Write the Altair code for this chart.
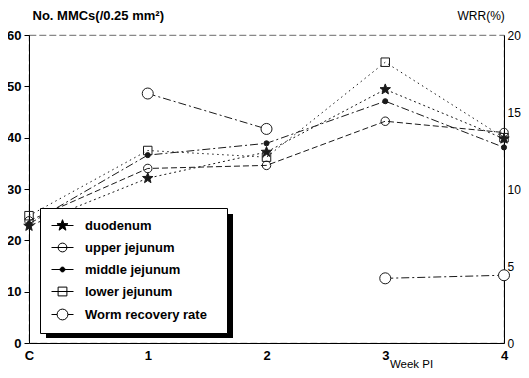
import math
import altair as alt
import pandas as pd

# ---------------- data ----------------
weeks = [0, 1, 2, 3, 4]
duodenum = [22.8, 32.1, 37.2, 49.4, 39.8]
upper_jejunum = [23.8, 34.0, 34.6, 43.2, 41.0]
middle_jejunum = [23.2, 36.6, 38.9, 47.1, 38.1]
lower_jejunum = [24.8, 37.5, 36.2, 54.7, 40.0]

wrr_weeks = [1, 2, 3, 4]
wrr_values = [16.2, 13.9, 4.2, 4.4]
wrr_segments = ["early", "early", "late", "late"]

series_names = ["duodenum", "upper jejunum", "middle jejunum",
                "lower jejunum", "Worm recovery rate"]
x_tick_labels = ["C", "1", "2", "3", "4"]
left_ticks = [0, 10, 20, 30, 40, 50, 60]
right_ticks = [0, 5, 10, 15, 20]

mmc_rows = []
for name, vals in zip(series_names[:4],
                      [duodenum, upper_jejunum, middle_jejunum, lower_jejunum]):
    for w, v in zip(weeks, vals):
        mmc_rows.append({"series": name, "week": w, "value": v})
mmc_df = pd.DataFrame(mmc_rows)
wrr_df = pd.DataFrame({"series": series_names[4], "week": wrr_weeks,
                       "value": wrr_values, "seg": wrr_segments})

# ---------------- marker paths (unit coords) ----------------
def star_path(r_out=1.0, r_in=0.42):
    pts = []
    for k in range(10):
        r = r_out if k % 2 == 0 else r_in
        a = math.radians(-90 + 36 * k)
        pts.append(f"{r * math.cos(a):.3f},{r * math.sin(a):.3f}")
    return "M" + "L".join(pts) + "Z"


def circle_path(r):
    return f"M{r},0A{r},{r},0,1,1,{-r},0A{r},{r},0,1,1,{r},0Z"


def square_path(h):
    return f"M{-h},{-h}H{h}V{h}H{-h}Z"


stub = "M-2.75,0H2.75"
legend_paths = [
    stub + star_path(1.45, 0.6),
    stub + circle_path(1.1),
    stub + circle_path(0.6),
    stub + square_path(1.1),
    "M-2.75,0H-1.35M1.35,0H2.75" + circle_path(1.35),
]
legend_fills = ["black", "transparent", "black", "transparent", "white"]
legend_strokes = ["black"] * 5

FONT = "Liberation Sans"
INK = "#1a1a1a"

x_enc = alt.X(
    "week:Q",
    scale=alt.Scale(domain=[0, 4], nice=False),
    axis=alt.Axis(
        values=weeks,
        labelExpr="[" + ",".join(f"'{t}'" for t in x_tick_labels) + "][datum.value]",
        labelFlush=False, tickSize=0, labelPadding=6,
        labelFontSize=13, labelFontWeight="bold",
        title="Week PI", titleFontSize=11.5, titleFontWeight="normal",
        titleX=382, titleY=24, titleBaseline="alphabetic", titleAlign="center",
    ),
)

y_left = alt.Y(
    "value:Q",
    scale=alt.Scale(domain=[0, 60], nice=False),
    axis=alt.Axis(
        orient="left", values=left_ticks, tickSize=5, labelPadding=3,
        labelFontSize=13, labelFontWeight="bold",
        title="No. MMCs(/0.25 mm²)", titleAngle=0, titleAlign="left",
        titleBaseline="middle", titleX=3, titleY=-20,
        titleFontSize=13, titleFontWeight="bold",
    ),
)

y_right = alt.Y(
    "value:Q",
    scale=alt.Scale(domain=[0, 20], nice=False),
    axis=alt.Axis(
        orient="right", values=right_ticks, tickSize=0, labelPadding=3,
        labelFontSize=12, labelFontWeight="normal",
        title="WRR(%)", titleAngle=0, titleAlign="left",
        titleBaseline="middle", titleX=-47, titleY=-20,
        titleFontSize=12, titleFontWeight="normal",
    ),
)

line_dashes = {
    "duodenum": [2, 3],
    "upper jejunum": [6, 3],
    "middle jejunum": [8, 3, 2, 3],
    "lower jejunum": [1.5, 3.5],
}
point_styles = {
    "duodenum": dict(shape=star_path(), size=121, filled=True, fill=INK, stroke=INK),
    "upper jejunum": dict(shape="circle", size=72, filled=False, stroke=INK),
    "middle jejunum": dict(shape="circle", size=26, filled=True, fill=INK, stroke=INK),
    "lower jejunum": dict(shape="square", size=72, filled=False, stroke=INK),
}

# legend drop shadow (decoration only)
shadow = alt.Chart(alt.Data(values=[{}])).mark_rect(color="black").encode(
    x=alt.value(17), x2=alt.value(204), y=alt.value(179), y2=alt.value(303)
)

layers = [shadow]
for name in series_names[:4]:
    layers.append(
        alt.Chart(mmc_df).transform_filter(alt.datum.series == name)
        .mark_line(color=INK, strokeWidth=1, strokeDash=line_dashes[name])
        .encode(x=x_enc, y=y_left)
    )
for name in series_names[:4]:
    st = point_styles[name]
    layers.append(
        alt.Chart(mmc_df).transform_filter(alt.datum.series == name)
        .mark_point(strokeWidth=1, opacity=1, **st)
        .encode(x=x_enc, y=y_left)
    )

legend_def = alt.Legend(
    title=".", titleOrient="right", titleColor="white", titleFontSize=10,
    titlePadding=6,
    orient="none", legendX=11, legendY=173,
    padding=11, symbolOffset=5, labelOffset=16, rowPadding=8,
    labelFont=FONT, labelFontSize=13, labelFontWeight="bold", labelColor="black",
    fillColor="white", strokeColor="black", symbolSize=64,
    symbolStrokeWidth=1, symbolOpacity=1, zindex=1,
)
legend_layer = (
    alt.Chart(mmc_df).transform_filter("datum.week < 0")
    .mark_point(size=64, strokeWidth=1, opacity=1)
    .encode(
        x=x_enc, y=y_left,
        shape=alt.Shape("series:N", scale=alt.Scale(domain=series_names, range=legend_paths),
                        legend=legend_def),
        fill=alt.Fill("series:N", scale=alt.Scale(domain=series_names, range=legend_fills),
                      legend=legend_def),
        stroke=alt.Stroke("series:N", scale=alt.Scale(domain=series_names, range=legend_strokes),
                          legend=legend_def),
    )
)
layers.append(legend_layer)
left_group = alt.layer(*layers)

wrr_line = alt.Chart(wrr_df).mark_line(
    color=INK, strokeWidth=1, strokeDash=[8, 3, 2, 3]
).encode(x=x_enc, y=y_right, detail="seg:N")
wrr_pts = alt.Chart(wrr_df).mark_point(
    shape="circle", size=121, filled=True, fill="white", stroke=INK, strokeWidth=1, opacity=1
).encode(x=x_enc, y=y_right)
right_group = alt.layer(wrr_line, wrr_pts)

chart = (
    alt.layer(left_group, right_group)
    .resolve_scale(y="independent")
    .properties(
        width=475, height=308,
        autosize=alt.AutoSizeParams(type="none"),
        padding={"left": 21, "top": 27, "right": 17, "bottom": 27},
        background="white",
    )
    .configure_view(stroke="#444444", strokeDash=[7, 3], strokeWidth=0.8)
    .configure_axis(
        grid=False, domainColor="black", tickColor="black",
        labelColor="black", titleColor="black",
        labelFont=FONT, titleFont=FONT, domainWidth=1,
    )
)

chart.save("out.html", embed_options={"renderer": "svg", "actions": False})
